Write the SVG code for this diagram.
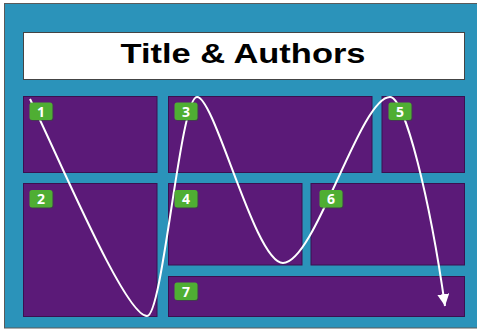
<svg xmlns="http://www.w3.org/2000/svg" width="477" height="329" viewBox="0 0 477 329">
<style>
.panel{fill:#5b1a78;stroke:#3b1050;stroke-width:1}
.badge{fill:#4fae33}
.shadow{fill:#2c5a2a;opacity:0.5}
.num{font-family:"Open Sans","Liberation Sans",sans-serif;font-weight:bold;font-size:14px;fill:#ffffff;text-anchor:middle}
.flow{fill:none;stroke:#ffffff;stroke-width:2}
</style>
<defs>
<marker id="arrow" markerUnits="userSpaceOnUse" markerWidth="12" markerHeight="12" refX="10" refY="5" orient="auto" viewBox="0 0 10 10">
<path d="M0,0 L10,5 L0,10 Z" fill="#ffffff"/>
</marker>
</defs>
<rect id="background" x="4.5" y="3.5" width="480" height="324.5" fill="#2b93ba" stroke="#5a5a5a" stroke-width="1"/>
<g id="title">
<rect x="23.5" y="32.5" width="441" height="47" fill="#ffffff" stroke="#444444" stroke-width="1"/>
<text x="243" y="62.5" font-family="'Liberation Sans',Arial,sans-serif" font-weight="bold" font-size="28" text-anchor="middle" textLength="245" lengthAdjust="spacingAndGlyphs" fill="#000000">Title &amp; Authors</text>
</g>
<g id="panel1"><rect class="panel" x="23.5" y="96.5" width="133.5" height="76"/></g>
<g id="panel3"><rect class="panel" x="168.5" y="96.5" width="203.5" height="76"/></g>
<g id="panel5"><rect class="panel" x="382" y="96.5" width="82.5" height="76"/></g>
<g id="panel2"><rect class="panel" x="23.5" y="183.5" width="133.5" height="133"/></g>
<g id="panel4"><rect class="panel" x="168.5" y="183.5" width="133.5" height="81.5"/></g>
<g id="panel6"><rect class="panel" x="311" y="183.5" width="153.5" height="81.5"/></g>
<g id="panel7"><rect class="panel" x="168.5" y="276.5" width="296" height="40"/></g>
<g id="connectors">
<path class="flow" marker-end="url(#arrow)" d="M30,99 C60,160 125,316 147,316 C163,316 180,97 197,97 C215,97 255,263 283,263 C315,263 360,97 390,97 C405,97 430,200 445,306"/>
</g>
<g id="badge1"><rect class="shadow" x="30.5" y="103.5" width="23" height="17.5" rx="2.5"/><rect class="badge" x="29.5" y="102.5" width="23" height="17.5" rx="2.5"/><text class="num" x="41" y="116.5">1</text></g>
<g id="badge3"><rect class="shadow" x="175.5" y="103.5" width="23" height="17.5" rx="2.5"/><rect class="badge" x="174.5" y="102.5" width="23" height="17.5" rx="2.5"/><text class="num" x="186" y="116.5">3</text></g>
<g id="badge5"><rect class="shadow" x="389.5" y="103.5" width="23" height="17.5" rx="2.5"/><rect class="badge" x="388.5" y="102.5" width="23" height="17.5" rx="2.5"/><text class="num" x="400" y="116.5">5</text></g>
<g id="badge2"><rect class="shadow" x="30.5" y="191" width="23" height="17.5" rx="2.5"/><rect class="badge" x="29.5" y="190" width="23" height="17.5" rx="2.5"/><text class="num" x="41" y="204">2</text></g>
<g id="badge4"><rect class="shadow" x="175.5" y="191" width="23" height="17.5" rx="2.5"/><rect class="badge" x="174.5" y="190" width="23" height="17.5" rx="2.5"/><text class="num" x="186" y="204">4</text></g>
<g id="badge6"><rect class="shadow" x="320.5" y="191" width="23" height="17.5" rx="2.5"/><rect class="badge" x="319.5" y="190" width="23" height="17.5" rx="2.5"/><text class="num" x="331" y="204">6</text></g>
<g id="badge7"><rect class="shadow" x="175.5" y="283.5" width="23" height="17.5" rx="2.5"/><rect class="badge" x="174.5" y="282.5" width="23" height="17.5" rx="2.5"/><text class="num" x="186" y="296.5">7</text></g>
</svg>
